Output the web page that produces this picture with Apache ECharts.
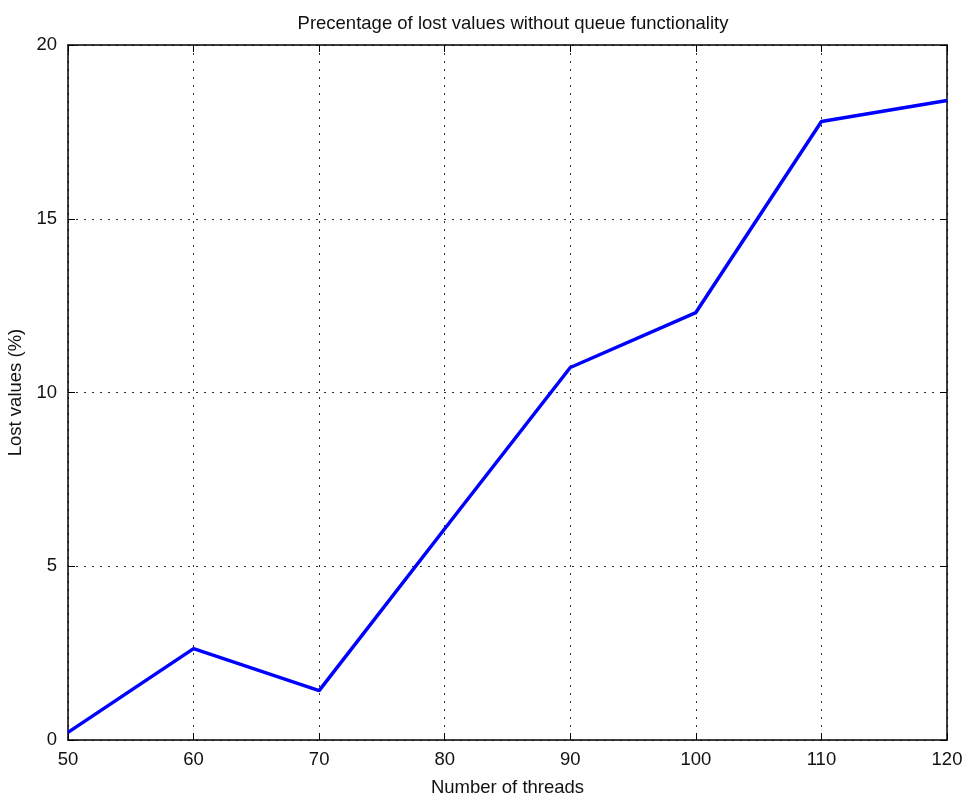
<!DOCTYPE html>
<html>
<head>
<meta charset="utf-8">
<script src="https://cdn.jsdelivr.net/npm/echarts@6/dist/echarts.min.js"></script>
<style>
  html, body { margin: 0; padding: 0; background: #fff; }
  #chart { width: 969px; height: 803px; }
</style>
</head>
<body>
<div id="chart"></div>
<script>
// Thread counts and the share of values lost at each count
const threads = [50, 60, 70, 80, 90, 100, 110, 120];
const lostPercent = [0.22, 2.63, 1.42, 6.08, 10.72, 12.3, 17.8, 18.4];
const titleText = 'Precentage of lost values without queue functionality';
const xName = 'Number of threads';
const yName = 'Lost values (%)';

const FONT = '"Liberation Sans", Arial, sans-serif';
const FS = 18.5;
const chart = echarts.init(document.getElementById('chart'), null, { renderer: 'canvas' });

const gridLine = { show: true, lineStyle: { color: '#333', width: 1, type: [2, 6] } };
const frameLine = { show: true, onZero: false, lineStyle: { color: '#000', width: 1.5 } };
const inTick = { show: true, inside: true, length: 7, lineStyle: { color: '#000', width: 1 } };

chart.setOption({
  animation: false,
  backgroundColor: '#fff',
  title: {
    text: titleText,
    left: 508, top: 9, textAlign: 'center',
    textStyle: { fontFamily: FONT, fontSize: FS, fontWeight: 'normal', color: '#111' }
  },
  grid: { left: 68, right: 22, top: 45, bottom: 63, containLabel: false, outerBoundsMode: 'none' },
  xAxis: [{
    type: 'value', min: 50, max: 120, interval: 10,
    name: xName, nameLocation: 'middle', nameGap: 38,
    nameTextStyle: { fontFamily: FONT, fontSize: FS, color: '#111' },
    axisLine: frameLine, axisTick: inTick,
    axisLabel: { fontFamily: FONT, fontSize: FS, color: '#111', margin: 10 },
    splitLine: gridLine
  }, {
    type: 'value', position: 'top', min: 50, max: 120, interval: 10,
    axisLine: frameLine, axisTick: inTick, axisLabel: { show: false }, splitLine: { show: false }
  }],
  yAxis: [{
    type: 'value', min: 0, max: 20, interval: 5,
    name: yName, nameLocation: 'middle', nameGap: 38, nameRotate: 90,
    nameTextStyle: { fontFamily: FONT, fontSize: FS, color: '#111' },
    axisLine: frameLine, axisTick: inTick,
    axisLabel: { fontFamily: FONT, fontSize: FS, color: '#111', margin: 11 },
    splitLine: gridLine
  }, {
    type: 'value', position: 'right', min: 0, max: 20, interval: 5,
    axisLine: frameLine, axisTick: inTick, axisLabel: { show: false }, splitLine: { show: false }
  }],
  series: [{
    type: 'line',
    data: threads.map((t, i) => [t, lostPercent[i]]),
    showSymbol: false,
    lineStyle: { color: '#0000ff', width: 3.5 },
    itemStyle: { color: '#0000ff' }
  }]
});
</script>
</body>
</html>
